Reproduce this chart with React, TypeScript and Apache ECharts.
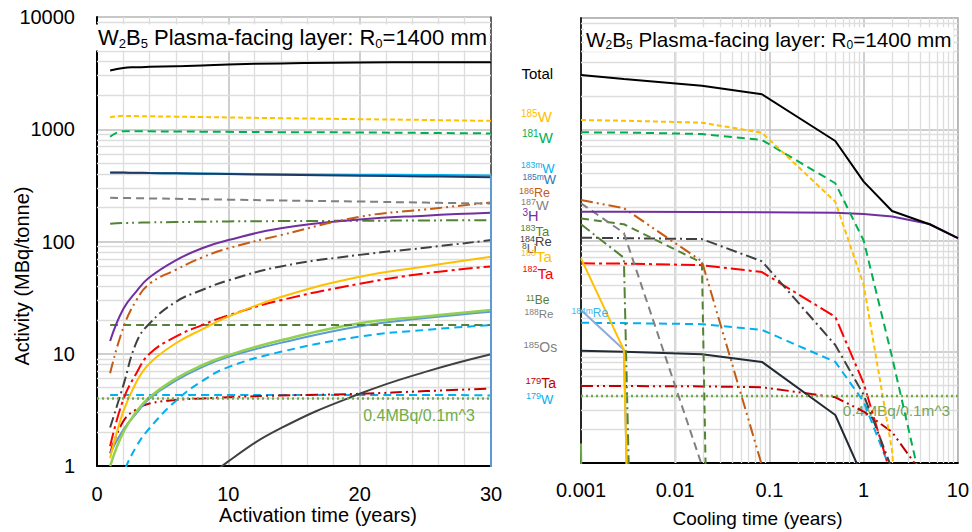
import React, { useEffect, useRef } from 'react';
import * as echarts from 'echarts';

const FONT = 'Liberation Sans';

// ---------------- Activation (left panel) ----------------
const actTime = [1, 2, 3, 4, 6, 8, 10, 14, 20, 25, 30];
const actTotal = [3340, 3520, 3570, 3600, 3650, 3700, 3780, 3860, 3940, 3950, 3960];
const act185W = [1280, 1316, 1310, 1305, 1295, 1285, 1274, 1255, 1230, 1210, 1188];
const act181W = [856, 962, 960, 958, 955, 952, 948, 942, 936, 927, 918];
const act183mW = [410, 409, 408, 407, 405, 403, 401, 398, 394, 391, 388];
const act185mW = [412, 411, 410, 408, 405, 402, 399, 393, 385, 380, 374];
const act187W = [245, 244, 243, 242, 240, 238, 236, 232, 227, 222, 218];
const act186Re = [6.7, 17, 30, 42, 56, 72, 87, 114, 166, 193, 223];
const act3H = [13, 25, 36, 48, 68, 87, 103, 131, 157, 170, 180];
const act183Ta = [144, 146, 147, 148, 149, 150, 151, 152, 153, 154, 155];
const act184Re = [2.2, 5.2, 12.6, 18.6, 29, 37, 45, 60, 76, 88, 103];
const act180Ta = [1.17, 3.05, 5.6, 8.2, 12.4, 16.5, 21.4, 32, 48.5, 60, 73];
const act182Ta = [1.5, 3.9, 6.7, 10, 14.2, 18, 22, 30, 42, 52, 60];
const act11Be = [18, 18, 18, 18, 18, 18, 18, 18, 18, 18, 18];
const act8Li = [1.0, 2.0, 3.05, 4.1, 6.0, 7.9, 9.7, 13.2, 18.7, 21.5, 24.5];
const act188Re = [1.3, 2.1, 2.95, 4.0, 5.75, 7.6, 9.4, 12.5, 17.6, 20.8, 23.7];
const act184mRe = [0.35, 0.85, 1.49, 2.17, 3.8, 5.7, 7.6, 10.4, 14.2, 16.3, 18.0];
const act185Os = [0.02, 0.06, 0.1, 0.17, 0.38, 0.68, 1.1, 2.17, 4.4, 6.9, 9.9];
const act179Ta = [1.3, 2.5, 3.2, 3.6, 3.87, 4.0, 4.1, 4.25, 4.4, 4.65, 4.9];
const act179W = [4.3, 4.3, 4.3, 4.3, 4.3, 4.3, 4.3, 4.3, 4.3, 4.3, 4.25];
const actEndTime = [30, 30];
const actEndDrop = [388, 1e-28];

// ---------------- Cooling (right panel) ----------------
const coolTime = [0.001, 0.00285, 0.0192, 0.0833, 0.5, 1, 2, 5, 10];
const coolTotal = [3074, 2830, 2462, 2063, 784, 338, 184, 140, 105];
const cool185W = [1211, 1194, 1146, 931, 223, 40, 1.3, 5.5e-5, null];
const cool181W = [938, 935, 906, 800, 327, 100, 9, 0.3, null];
const cool3H = [181, 181, 180, 179, 178, 173, 164, 141, 105];
const cool186Re = [231, 195, 65, 0.95];
const cool187W = [216, 117, 0.95];
const cool183Ta = [158, 140, 63, 1e-28];
const coolOlive = [140, 70, 1e-28];
const cool184Re = [106, 105, 103, 65, 11.5, 4.1, 0.88];
const cool180Ta = [69, 10.4, 1e-28];
const cool182Ta = [62.4, 62, 60, 52, 20.6, 5.2, 0.73];
const cool188Re = [23.7, 10.4, 1e-28];
const cool185Os = [10.2, 10.0, 9.5, 8.1, 2.7, 0.72];
const cool184mRe = [18.2, 18.1, 17.7, 15.7, 8.1, 3.56, 0.8];
const cool179Ta = [4.92, 4.92, 4.88, 4.8, 3.9, 2.9, 1.9, 0.65];
const cool8Li = [1.5, 1e-28];

const limitValue = 4;
const limitText = '0.4MBq/0.1m^3';

const yMajorDecades = [1, 10, 100, 1000];
const xMajorDecades = [0.001, 0.01, 0.1, 1];
const minorMults = [2, 3, 4, 5, 6, 7, 8, 9];

// nuclide label column (text content)
const nuclideLabels: [string, string, string][] = [
  ['', 'Total', '#000000'],
  ['185', 'W', '#FFC000'],
  ['181', 'W', '#00B050'],
  ['183m', 'W', '#00B0F0'],
  ['185m', 'W', '#2E75B6'],
  ['186', 'Re', '#C55A11'],
  ['187', 'W', '#7F7F7F'],
  ['3', 'H', '#7030A0'],
  ['183', 'Ta', '#548235'],
  ['8', 'Li', '#595959'],
  ['184', 'Re', '#404040'],
  ['180', 'Ta', '#FFC000'],
  ['182', 'Ta', '#FF0000'],
  ['11', 'Be', '#548235'],
  ['188', 'Re', '#7F7F7F'],
  ['184m', 'Re', '#3DB5EA'],
  ['185', 'Os', '#7F7F7F'],
  ['179', 'Ta', '#C00000'],
  ['179', 'W', '#00B0F0'],
];
// layout for those labels: x, y, superscript size, main size
const nuclideLayout: [number, number, number, number][] = [
  [521.5, 73.3, 0, 15],
  [521, 116.7, 10, 15],
  [522, 137.3, 10, 15],
  [521, 168.3, 8.5, 13],
  [522.5, 179.5, 8.5, 13],
  [519, 193.3, 9, 12.5],
  [521, 205.7, 9, 13.5],
  [522.5, 216, 10, 14.5],
  [520.5, 231, 9, 13],
  [522, 249, 8.5, 12.5],
  [520, 241.7, 9, 13],
  [521, 256.7, 9, 15],
  [522.5, 273.3, 9, 15],
  [526, 300, 8.5, 12],
  [524.5, 314, 8.5, 11.5],
  [571.5, 313.3, 8.5, 12],
  [523.5, 347.3, 9.5, 14],
  [525.5, 383.3, 9.5, 14],
  [526, 399.3, 9, 13],
];

function pairs(xs: number[], ys: (number | null)[]): [number, number][] {
  const out: [number, number][] = [];
  ys.forEach((v, i) => {
    if (v !== null && v !== undefined && i < xs.length) out.push([xs[i], v]);
  });
  return out;
}

function leftLine(name: string, ys: (number | null)[], color: string, type: any, width = 2, z = 3) {
  return {
    name,
    type: 'line',
    xAxisIndex: 0,
    yAxisIndex: 0,
    data: pairs(actTime, ys),
    symbol: 'none',
    smooth: 0.45,
    silent: true,
    z,
    lineStyle: { color, width, type },
    emphasis: { disabled: true },
  };
}

function rightLine(name: string, ys: (number | null)[], color: string, type: any, width = 2, z = 3) {
  return {
    name,
    type: 'line',
    xAxisIndex: 1,
    yAxisIndex: 1,
    data: pairs(coolTime, ys),
    symbol: 'none',
    smooth: false,
    silent: true,
    z,
    lineStyle: { color, width, type },
    emphasis: { disabled: true },
  };
}

const DASH = [8, 5];
const SHORTDASH = [5, 3];
const DASHDOT = [11, 4, 2, 4];
const DASHDOTDOT = [12, 4, 2, 4, 2, 4];
const LONGDASHDOT = [14, 4, 3, 4];

function minorLines(axisKey: 'xAxis' | 'yAxis', decades: number[]) {
  const d: any[] = [];
  decades.forEach((dec) => minorMults.forEach((m) => d.push({ [axisKey]: m * dec })));
  return d;
}

function gridSeries(xi: number, anchor: [number, number]) {
  return {
    type: 'line',
    xAxisIndex: xi,
    yAxisIndex: xi,
    data: [anchor],
    symbol: 'none',
    silent: true,
    lineStyle: { width: 0, opacity: 0 },
    z: 1,
    markLine: {
      silent: true,
      z: 1,
      symbol: ['none', 'none'],
      label: { show: false },
      emphasis: { disabled: true },
      animation: false,
      lineStyle: { color: '#DDDDDD', width: 1.3, type: 'solid' },
      data: xi === 0 ? minorLines('yAxis', yMajorDecades) : [...minorLines('yAxis', yMajorDecades), ...minorLines('xAxis', xMajorDecades)],
    },
  };
}

function titleText(x: number, y: number, size: number) {
  const sub = Math.round(size * 0.6);
  return {
    type: 'text',
    x,
    y,
    z: 20,
    style: {
      text: '{n|W}{s|2}{n|B}{s|5}{n| Plasma-facing layer: R}{s|0}{n|=1400 mm}',
      fill: '#000',
      align: 'left',
      verticalAlign: 'middle',
      textAlign: 'left',
      textVerticalAlign: 'middle',
      backgroundColor: '#ffffff',
      padding: [1, 2, 1, 2],
      rich: {
        n: { fontFamily: FONT, fontSize: size, lineHeight: size + 2, verticalAlign: 'middle', fill: '#000' },
        s: { fontFamily: FONT, fontSize: sub, lineHeight: sub, verticalAlign: 'bottom', fill: '#000' },
      },
    },
  };
}

function nuclideText(i: number) {
  const [sup, main, color] = nuclideLabels[i];
  const [x, y, ss, ms] = nuclideLayout[i];
  const text = sup ? `{s|${sup}}{m|${main}}` : `{m|${main}}`;
  return {
    type: 'text',
    x,
    y,
    z: 20,
    style: {
      text,
      fill: color,
      align: 'left',
      verticalAlign: 'middle',
      textAlign: 'left',
      textVerticalAlign: 'middle',
      rich: {
        s: { fontFamily: FONT, fontSize: ss || 8, lineHeight: ss || 8, verticalAlign: 'top', fill: color },
        m: { fontFamily: FONT, fontSize: ms, lineHeight: ms + 2, verticalAlign: 'middle', fill: color },
      },
    },
  };
}

function plainText(text: string, x: number, y: number, size: number, color: string, rotation = 0, z = 20) {
  return {
    type: 'text',
    x,
    y,
    z,
    rotation,
    style: {
      text,
      fill: color,
      fontFamily: FONT,
      fontSize: size,
      font: `${size}px "${FONT}"`,
      align: 'center',
      verticalAlign: 'middle',
      textAlign: 'center',
      textVerticalAlign: 'middle',
    },
  };
}

const plainNumber = (v: number) => String(v);

export default function App() {
  const ref = useRef<HTMLDivElement>(null);

  useEffect(() => {
    if (!ref.current) return;
    const chart = echarts.init(ref.current, undefined, { renderer: 'svg' });

    const axisLabelStyle = { color: '#000', fontFamily: FONT, fontSize: 20 };
    const majorSplit = { show: true, lineStyle: { color: '#BFBFBF', width: 1.5 } };

    const option: any = {
      animation: false,
      backgroundColor: '#ffffff',
      textStyle: { fontFamily: FONT },
      grid: [
        { left: 97, top: 17, width: 394, height: 449, show: true, borderColor: '#BFBFBF', borderWidth: 1, backgroundColor: 'transparent' },
        { left: 581, top: 18, width: 380, height: 445, show: true, borderColor: '#8C8C8C', borderWidth: 1.5, backgroundColor: 'transparent' },
      ],
      xAxis: [
        {
          gridIndex: 0,
          type: 'value',
          min: 0,
          max: 30,
          interval: 10,
          axisLine: { show: true, onZero: false, lineStyle: { color: '#000', width: 2 } },
          axisTick: { show: false },
          axisLabel: { ...axisLabelStyle, margin: 18 },
          splitLine: majorSplit,
          minorTick: { show: false, splitNumber: 5 },
          minorSplitLine: { show: true, lineStyle: { color: '#DDDDDD', width: 1.3 } },
        },
        {
          gridIndex: 1,
          type: 'log',
          logBase: 10,
          min: 0.001,
          max: 10,
          axisLine: { show: true, onZero: false, lineStyle: { color: '#000', width: 2 } },
          axisTick: { show: false },
          axisLabel: { ...axisLabelStyle, margin: 17, formatter: plainNumber },
          splitLine: majorSplit,
        },
      ],
      yAxis: [
        {
          gridIndex: 0,
          type: 'log',
          logBase: 10,
          min: 1,
          max: 10000,
          axisLine: { show: true, onZero: false, lineStyle: { color: '#000', width: 2 } },
          axisTick: { show: false },
          axisLabel: { ...axisLabelStyle, margin: 22, formatter: plainNumber },
          splitLine: majorSplit,
        },
        {
          gridIndex: 1,
          type: 'log',
          logBase: 10,
          min: 1,
          max: 10000,
          axisLine: { show: true, onZero: false, lineStyle: { color: '#262626', width: 2 } },
          axisTick: { show: false },
          axisLabel: { show: false },
          splitLine: majorSplit,
        },
        {
          gridIndex: 0,
          type: 'log',
          logBase: 10,
          min: 1,
          max: 10000,
          position: 'right',
          axisLine: { show: true, onZero: false, lineStyle: { color: '#404040', width: 1.5 } },
          axisTick: { show: false },
          axisLabel: { show: false },
          splitLine: { show: false },
        },
      ],
      graphic: {
        elements: [
          titleText(96, 37.5, 22),
          titleText(584, 39.5, 20.7),
          plainText('Activity (MBq/tonne)', 22, 276, 20, '#000', Math.PI / 2),
          plainText('Activation time (years)', 318, 515, 20, '#000'),
          plainText('Cooling time (years)', 757.5, 518, 19, '#000'),
          plainText(limitText, 419, 415, 16, '#70AD47', 0, 2),
          plainText(limitText, 896.5, 410.7, 15.4, '#78A55A', 0, 2),
          ...nuclideLabels.map((_, i) => nuclideText(i)),
        ],
      },
      series: [
        gridSeries(0, [1, 1]),
        gridSeries(1, [0.001, 1]),
        // left panel
        leftLine('179W', act179W, '#00B0F0', DASH),
        leftLine('179Ta', act179Ta, '#C00000', DASHDOTDOT),
        leftLine('185Os', act185Os, '#404040', 'solid'),
        leftLine('184mRe', act184mRe, '#00B0F0', DASH),
        leftLine('188Re', act188Re, '#5B9BD5', 'solid'),
        leftLine('8Li', act8Li, '#92D050', 'solid', 2.5),
        leftLine('11Be', act11Be, '#548235', DASH),
        leftLine('182Ta', act182Ta, '#FF0000', LONGDASHDOT),
        leftLine('180Ta', act180Ta, '#FFC000', 'solid'),
        leftLine('184Re', act184Re, '#404040', DASHDOT),
        leftLine('183Ta', act183Ta, '#548235', DASHDOTDOT),
        leftLine('3H', act3H, '#7030A0', 'solid'),
        leftLine('186Re', act186Re, '#C55A11', DASHDOTDOT),
        leftLine('187W', act187W, '#808080', DASH),
        leftLine('183mW', act183mW, '#00B0F0', 'solid'),
        leftLine('185mW', act185mW, '#1F3864', 'solid'),
        leftLine('181W', act181W, '#00B050', DASH),
        leftLine('185W', act185W, '#FFC000', SHORTDASH),
        leftLine('Total', actTotal, '#000000', 'solid'),
        {
          name: 'end',
          type: 'line',
          xAxisIndex: 0,
          yAxisIndex: 0,
          data: pairs(actEndTime, actEndDrop),
          symbol: 'none',
          silent: true,
          z: 3,
          lineStyle: { color: '#5B9BD5', width: 2 },
        },
        {
          name: 'limitL',
          type: 'line',
          xAxisIndex: 0,
          yAxisIndex: 0,
          data: [[0, limitValue], [30, limitValue]],
          symbol: 'none',
          silent: true,
          z: 4,
          lineStyle: { color: '#70AD47', width: 2.5, type: [2, 3] },
        },
        // right panel
        rightLine('8Li', cool8Li, '#70AD47', 'solid', 2),
        rightLine('179Ta', cool179Ta, '#C00000', DASHDOTDOT),
        rightLine('185Os', cool185Os, '#222A35', 'solid'),
        rightLine('184mRe', cool184mRe, '#00B0F0', DASH),
        rightLine('188Re', cool188Re, '#8FAADC', 'solid'),
        rightLine('182Ta', cool182Ta, '#FF0000', LONGDASHDOT),
        rightLine('180Ta', cool180Ta, '#FFC000', 'solid'),
        rightLine('184Re', cool184Re, '#404040', DASHDOT),
        rightLine('olive', coolOlive, '#548235', DASHDOT),
        rightLine('183Ta', cool183Ta, '#548235', DASH),
        rightLine('187W', cool187W, '#808080', DASH),
        rightLine('186Re', cool186Re, '#C55A11', DASHDOTDOT),
        rightLine('3H', cool3H, '#7030A0', 'solid'),
        rightLine('181W', cool181W, '#00B050', DASH),
        rightLine('185W', cool185W, '#FFC000', SHORTDASH),
        rightLine('Total', coolTotal, '#000000', 'solid'),
        {
          name: 'limitR',
          type: 'line',
          xAxisIndex: 1,
          yAxisIndex: 1,
          data: [[0.001, limitValue], [10, limitValue]],
          symbol: 'none',
          silent: true,
          z: 4,
          lineStyle: { color: '#70AD47', width: 2.5, type: [2, 3] },
        },
      ],
    };

    chart.setOption(option);
    return () => chart.dispose();
  }, []);

  return (
    <div
      ref={ref}
      style={{ position: 'fixed', left: 0, top: 0, width: 972, height: 532, background: '#fff' }}
    />
  );
}
